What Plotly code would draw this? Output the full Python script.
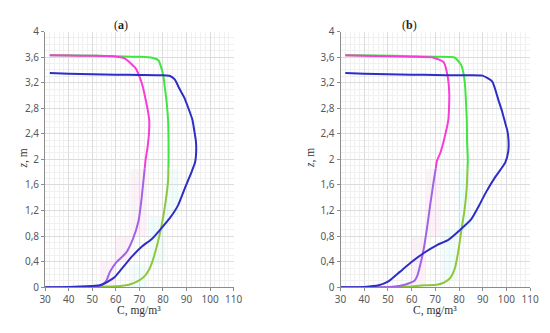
import plotly.graph_objects as go

# ---------------- data ----------------
# Panel (a)
a_mag_x = [30, 45, 52, 53.5, 54.7, 56.1, 57.5, 60.2, 64.4, 67.1, 69.6, 70.9, 71.9, 72.6, 73.5, 74.1, 74.2, 73.8, 73.3, 72.3, 71.2, 70.0, 68.5, 66.4, 63.7, 59.6, 50, 40, 32]
a_mag_z = [0, 0, 0.005, 0.02, 0.05, 0.11, 0.24, 0.39, 0.54, 0.74, 1.03, 1.38, 1.73, 1.98, 2.2, 2.42, 2.6, 2.72, 2.82, 3.0, 3.17, 3.3, 3.42, 3.5, 3.58, 3.61, 3.62, 3.625, 3.63]

a_grn_x = [30, 48, 56, 62, 64.4, 66.5, 68.5, 70.5, 72.6, 74.2, 75.4, 77.4, 79.5, 81.1, 82.2, 82.4, 82.4, 82.2, 81.5, 80.8, 80.2, 79.4, 78.1, 75.4, 70, 60, 45, 32]
a_grn_z = [0, 0, 0.01, 0.02, 0.03, 0.05, 0.08, 0.12, 0.19, 0.28, 0.39, 0.64, 0.98, 1.33, 1.68, 1.98, 2.28, 2.6, 2.92, 3.12, 3.3, 3.42, 3.55, 3.59, 3.605, 3.615, 3.625, 3.63]

a_blu_x = [30, 40, 50, 53, 54.7, 56.8, 59.6, 63, 67.1, 71.2, 75.4, 79.5, 82.9, 86.4, 89.1, 91.9, 93.6, 94.1, 94.0, 93.3, 92.5, 90.8, 89, 86.8, 85, 83, 80, 70, 60, 50, 40, 32]
a_blu_z = [0, 0.005, 0.02, 0.03, 0.05, 0.09, 0.16, 0.31, 0.49, 0.64, 0.76, 0.93, 1.08, 1.28, 1.53, 1.78, 1.95, 2.12, 2.28, 2.45, 2.62, 2.8, 2.97, 3.12, 3.25, 3.305, 3.315, 3.32, 3.325, 3.33, 3.34, 3.35]

# Panel (b)
b_mag_x = [30, 45, 50, 53, 57.1, 61.2, 62.5, 63.9, 65.3, 66.7, 68, 69.4, 70.7, 72.1, 73.5, 75.5, 75.9, 75.1, 73.5, 69.4, 60, 50, 40, 32]
b_mag_z = [0, 0, 0.003, 0.01, 0.04, 0.1, 0.19, 0.39, 0.64, 0.98, 1.33, 1.68, 1.98, 2.1, 2.28, 2.62, 3.02, 3.32, 3.52, 3.59, 3.605, 3.615, 3.62, 3.63]

b_grn_x = [30, 52, 58.5, 65.3, 70.7, 73.5, 76.2, 78.2, 79.6, 81, 82.4, 83.3, 83.7, 83.4, 83.3, 83.1, 82.4, 81, 78.3, 70, 60, 45, 32]
b_grn_z = [0, 0, 0.01, 0.03, 0.04, 0.07, 0.14, 0.29, 0.54, 0.89, 1.23, 1.58, 1.98, 2.28, 2.6, 2.77, 3.22, 3.47, 3.59, 3.605, 3.615, 3.625, 3.63]

b_blu_x = [30, 40, 46.1, 50.2, 55, 59.8, 65.3, 70.7, 75.5, 80.3, 85.1, 88.5, 91.3, 95.4, 99.5, 100.8, 100.9, 100.4, 99.5, 98.2, 96.7, 94, 89.9, 80, 70, 60, 50, 40, 32]
b_blu_z = [0, 0.005, 0.03, 0.09, 0.24, 0.39, 0.54, 0.66, 0.74, 0.89, 1.06, 1.28, 1.48, 1.73, 1.95, 2.13, 2.3, 2.45, 2.57, 2.75, 2.92, 3.22, 3.31, 3.315, 3.32, 3.325, 3.33, 3.34, 3.35]

# faint background bands: [x0, x1, z0, z1]
a_pink_bands = [[66.3, 73.3, 0.79, 1.85], [59.5, 66.3, 0.4, 0.79], [53.3, 59.5, 0.03, 0.4]]
a_cyan_bands = [[81.1, 86.6, 1.12, 1.85], [74.3, 81.1, 0.36, 1.12], [66.3, 73.3, 0.0, 0.36]]
b_pink_bands = [[66.0, 72.1, 0.79, 1.85], [59.8, 66.0, 0.03, 0.79]]
b_cyan_bands = [[79.6, 85.1, 0.9, 1.85], [72.7, 79.6, 0.1, 0.9]]

x_ticks = [30, 40, 50, 60, 70, 80, 90, 100, 110]
y_ticks = [0, 0.4, 0.8, 1.2, 1.6, 2, 2.4, 2.8, 3.2, 3.6, 4]
y_ticklabels = ["0", "0,4", "0,8", "1,2", "1,6", "2", "2,4", "2,8", "3,2", "3,6", "4"]
panel_titles = ["(<b>a</b>)", "(<b>b</b>)"]
x_title = "C, mg/m³"
y_title = "<i>z</i>, m"

SPLIT_Z = 1.86
MAG_TOP, MAG_BOT = "#f73cd8", "#a062e6"
GRN_TOP, GRN_BOT = "#40e640", "#8ec63c"
BLUE = "#2e2ec6"

W, H = 534, 317  # page body has an 8px margin -> 550x333 window

fig = go.Figure()


def split(xs, zs, zsplit):
    # find first crossing of zsplit going up the curve
    for i in range(1, len(zs)):
        if zs[i - 1] <= zsplit < zs[i]:
            t = (zsplit - zs[i - 1]) / (zs[i] - zs[i - 1])
            xm = xs[i - 1] + t * (xs[i] - xs[i - 1])
            lo_x = list(xs[:i]) + [xm]
            lo_z = list(zs[:i]) + [zsplit]
            hi_x = [xm] + list(xs[i:])
            hi_z = [zsplit] + list(zs[i:])
            return lo_x, lo_z, hi_x, hi_z
    return list(xs), list(zs), [], []


def add_line(xs, zs, color, xa, ya):
    fig.add_trace(go.Scatter(x=xs, y=zs, mode="lines", xaxis=xa, yaxis=ya,
                             line=dict(color=color, width=2, shape="spline", smoothing=0.5),
                             showlegend=False, hoverinfo="skip"))


def add_curve(xs, zs, c_bot, c_top, xa, ya):
    lo_x, lo_z, hi_x, hi_z = split(xs, zs, SPLIT_Z)
    add_line(lo_x, lo_z, c_bot, xa, ya)
    add_line(hi_x, hi_z, c_top, xa, ya)


panels = [
    ("x", "y", a_mag_x, a_mag_z, a_grn_x, a_grn_z, a_blu_x, a_blu_z, a_pink_bands, a_cyan_bands),
    ("x2", "y2", b_mag_x, b_mag_z, b_grn_x, b_grn_z, b_blu_x, b_blu_z, b_pink_bands, b_cyan_bands),
]

shapes = []
for xa, ya, mx, mz, gx, gz, bx, bz, pb, cb in panels:
    for x0, x1, z0, z1 in pb:
        shapes.append(dict(type="rect", xref=xa, yref=ya, x0=x0, x1=x1, y0=z0, y1=z1,
                           fillcolor="rgba(255,160,220,0.16)", line=dict(width=0), layer="below"))
    for x0, x1, z0, z1 in cb:
        shapes.append(dict(type="rect", xref=xa, yref=ya, x0=x0, x1=x1, y0=z0, y1=z1,
                           fillcolor="rgba(140,255,235,0.16)", line=dict(width=0), layer="below"))
    add_curve(gx, gz, GRN_BOT, GRN_TOP, xa, ya)
    add_curve(mx, mz, MAG_BOT, MAG_TOP, xa, ya)
    add_line(bx, bz, BLUE, xa, ya)

tickfont = dict(family="Noto Sans", size=10, color="#595959")
common_x = dict(range=[30, 110], tickvals=x_ticks, showgrid=True, gridcolor="#dcdcdc", gridwidth=1,
                showline=True, linecolor="#8c8c8c", linewidth=1, ticks="outside", ticklen=3,
                tickcolor="#8c8c8c", tickfont=tickfont, zeroline=False,
                minor=dict(dtick=2, tick0=30, showgrid=True, gridcolor="#f0f0f0", ticks=""))
common_y = dict(range=[0, 4], tickvals=y_ticks, ticktext=y_ticklabels, showgrid=True, gridcolor="#dcdcdc",
                gridwidth=1, showline=True, linecolor="#8c8c8c", linewidth=1, ticks="outside", ticklen=3,
                tickcolor="#8c8c8c", tickfont=tickfont, zeroline=False,
                minor=dict(dtick=0.1, tick0=0, showgrid=True, gridcolor="#f0f0f0", ticks=""))


def fx(px):  # window x pixel -> paper fraction
    return (px - 8) / W


def fy(py):  # window y pixel (from top) -> paper fraction
    return 1 - (py - 8) / H


ydom = [fy(292.7), fy(24.3)]
fig.update_layout(
    width=W, height=H, margin=dict(l=0, r=0, t=0, b=0),
    paper_bgcolor="white", plot_bgcolor="white",
    xaxis=dict(domain=[fx(40), fx(234)], anchor="y", **common_x),
    yaxis=dict(domain=ydom, anchor="x", **common_y),
    xaxis2=dict(domain=[fx(344), fx(539)], anchor="y2", **common_x),
    yaxis2=dict(domain=ydom, anchor="x2", **common_y),
    shapes=shapes,
)

serif = dict(family="Liberation Serif", size=11.5, color="#333333")
annots = []
for i in range(2):
    annots.append(dict(text=panel_titles[i], x=fx([118, 415][i]), y=1, xref="paper", yref="paper",
                       xanchor="center", yanchor="top", showarrow=False,
                       font=dict(family="Liberation Serif", size=12, color="#222")))
    annots.append(dict(text=x_title, x=fx([137, 441.5][i]), y=0, xref="paper", yref="paper",
                       xanchor="center", yanchor="bottom", showarrow=False, borderpad=0, font=serif))
    annots.append(dict(text=y_title, x=fx([9, 305][i]), y=fy(157), xref="paper", yref="paper",
                       xanchor="left", yanchor="middle", showarrow=False, textangle=-90, font=serif))
fig.update_layout(annotations=annots)

fig.write_html("out.html")
